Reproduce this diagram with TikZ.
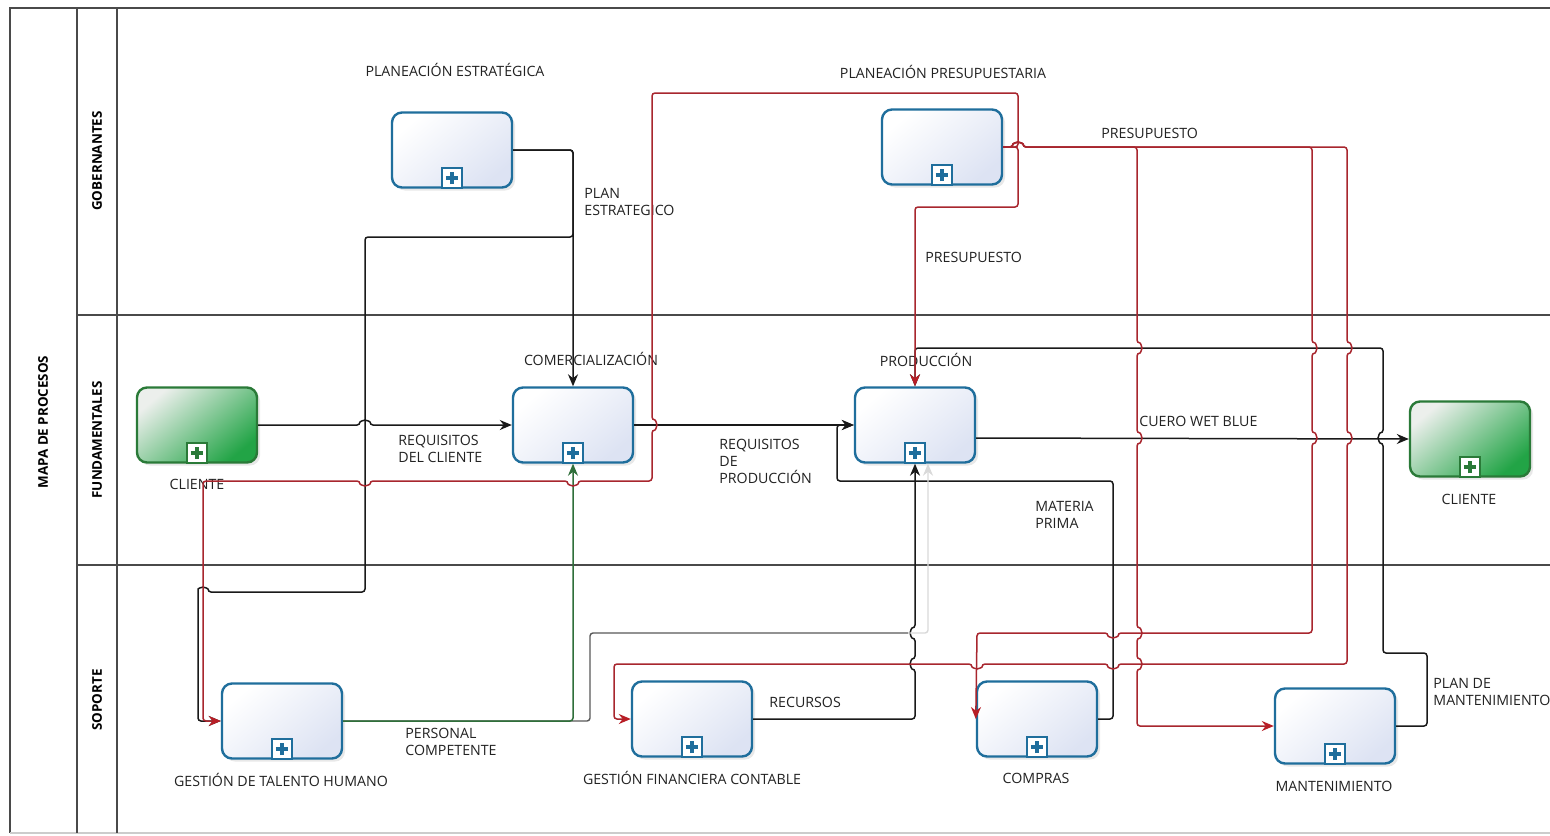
\documentclass[tikz,border=0pt]{standalone}
\usepackage{fontspec}
\setmainfont{Open Sans}
\usetikzlibrary{arrows.meta,shadows}
\definecolor{taskblue}{HTML}{1F6E9C}
\definecolor{taskfill}{HTML}{DDE3F3}
\definecolor{gborder}{HTML}{2A7A38}
\definecolor{gdark}{HTML}{22A446}
\definecolor{glight}{HTML}{ECEFEC}
\definecolor{redline}{HTML}{A8262E}
\definecolor{redarrow}{HTML}{B81E26}
\definecolor{greenline}{HTML}{2F6F3A}
\definecolor{laneline}{HTML}{4A4A4A}
\definecolor{txt}{HTML}{222222}
\tikzset{
  task/.style={draw=taskblue, line width=1.2pt, rounded corners=5pt, minimum width=60pt, minimum height=37.5pt, inner sep=0pt,
    top color=white, bottom color=taskfill, shading angle=40,
    drop shadow={shadow xshift=1.5pt, shadow yshift=-1.5pt, opacity=0.18}},
  gtask/.style={draw=gborder, line width=1.2pt, rounded corners=5pt, minimum width=60pt, minimum height=37.5pt, inner sep=0pt,
    top color=glight, bottom color=gdark, shading angle=40,
    drop shadow={shadow xshift=1.5pt, shadow yshift=-1.5pt, opacity=0.18}},
  lbl/.style={font=\fontsize{7.1}{8.5}\selectfont, inner sep=0pt, align=left, anchor=west, text=txt},
  blbl/.style={font=\fontsize{7.1}{8.5}\selectfont, inner sep=0pt, text=txt},
  lanelbl/.style={font=\fontsize{6.7}{8}\selectfont\bfseries, rotate=90, inner sep=0pt, text=black},
  frameline/.style={draw=laneline, line width=0.6pt},
  bk/.style={draw=black!90, line width=0.75pt, rounded corners=1.5pt},
  rd/.style={draw=redline, line width=0.75pt, rounded corners=1.5pt},
  gn/.style={draw=greenline, line width=0.75pt, rounded corners=1.5pt},
  gy/.style={draw=black!65, line width=0.7pt, rounded corners=1.5pt},
  lgy/.style={draw=black!15, line width=0.7pt, rounded corners=1.5pt},
  arr/.style={-{Stealth[length=6pt,width=5pt]}},
  rarr/.style={-{Stealth[length=6pt,width=5pt,color=redarrow]}},
}
\newcommand\mkplus[2]{%
  \node[draw=#2, fill=white, line width=0.9pt, minimum size=10pt, inner sep=0pt, anchor=south] (#1m) at (#1.south) {};
  \draw[#2, line width=1.8pt] ([yshift=-3.1pt]#1m.center) -- ([yshift=3.1pt]#1m.center)
    ([xshift=-3.1pt]#1m.center) -- ([xshift=3.1pt]#1m.center);}
\begin{document}
\begin{tikzpicture}[x=0.5pt, y=-0.5pt]
\useasboundingbox (0,0) rectangle (1550,835);
\fill[white] (0,0) rectangle (1550,835);
% frame
\draw[frameline] (1560,8) -- (10,8) -- (10,833);
\draw[draw=black!20, line width=0.6pt] (10,833) -- (1560,833);
\draw[frameline] (77,8) -- (77,833);
\draw[frameline] (117,8) -- (117,833);
\draw[frameline] (77,315) -- (1560,315);
\draw[frameline] (77,565) -- (1560,565);
\node[lanelbl] (pool) at (43,422) {MAPA DE PROCESOS};
\node[lanelbl] (lg) at (97,161) {GOBERNANTES};
\node[lanelbl] (lf) at (97,440) {FUNDAMENTALES};
\node[lanelbl] (ls) at (97,700) {SOPORTE};

% nodes
\node[task] (PE) at (452,150) {};
\node[task] (PP) at (942,147) {};
\node[gtask] (C1) at (197,425) {};
\node[task] (COM) at (573,425) {};
\node[task] (PROD) at (915,425) {};
\node[gtask] (C2) at (1470,439) {};
\node[task] (GTH) at (282,721) {};
\node[task] (GFC) at (692,719) {};
\node[task] (CMP) at (1037,719) {};
\node[task] (MANT) at (1335,726) {};
\mkplus{PE}{taskblue}
\mkplus{PP}{taskblue}
\mkplus{C1}{gborder}
\mkplus{COM}{taskblue}
\mkplus{PROD}{taskblue}
\mkplus{C2}{gborder}
\mkplus{GTH}{taskblue}
\mkplus{GFC}{taskblue}
\mkplus{CMP}{taskblue}
\mkplus{MANT}{taskblue}

% node labels
\node[blbl] (tPE) at (455,70) {PLANEACIÓN ESTRATÉGICA};
\node[blbl] (tPP) at (943,72) {PLANEACIÓN PRESUPUESTARIA};
\node[blbl] (tC1) at (197,484) {CLIENTE};
\node[blbl] (tCOM) at (591,359) {COMERCIALIZACIÓN};
\node[blbl] (tPROD) at (926,360) {PRODUCCIÓN};
\node[blbl] (tC2) at (1469,499) {CLIENTE};
\node[blbl] (tGTH) at (281,780) {GESTIÓN DE TALENTO HUMANO};
\node[blbl] (tGFC) at (692,778) {GESTIÓN FINANCIERA CONTABLE};
\node[blbl] (tCMP) at (1036,778) {COMPRAS};
\node[blbl] (tMANT) at (1334,786) {MANTENIMIENTO};

% edge labels
\node[lbl] (ePE) at (584,202) {PLAN\\ESTRATEGICO};
\node[lbl] (ePP1) at (925,257) {PRESUPUESTO};
\node[lbl] (ePP2) at (1101,133) {PRESUPUESTO};
\node[lbl] (eC1) at (398,449) {REQUISITOS\\DEL CLIENTE};
\node[lbl] (eCOM) at (719,461) {REQUISITOS\\DE\\PRODUCCIÓN};
\node[lbl] (ePROD) at (1139,421) {CUERO WET BLUE};
\node[lbl] (eCMP) at (1035,515) {MATERIA\\PRIMA};
\node[lbl] (eGTH) at (405,742) {PERSONAL\\COMPETENTE};
\node[lbl] (eGFC) at (769,702) {RECURSOS};
\node[lbl] (eMANT) at (1433,692) {PLAN DE\\MANTENIMIENTO};

% ---- black connectors
\draw[bk,arr] (PE.east) -- (573,150) -- (COM.north);
\draw[bk,arr] (PE.east) -- (573,150) -- (573,237) -- (365,237) -- (365,592) -- (208,592)
  arc[start angle=0, end angle=180, radius=2.5pt] -- (198,721) -- (GTH.west);
\draw[bk,arr] (C1.east) -- (360,425) arc[start angle=180, end angle=0, radius=2.5pt] -- (COM.west);
\draw[bk,arr] (COM.east) -- (PROD.west);
\draw[bk,arr] ([yshift=-6.5pt]PROD.east) -- (C2.west);
\draw[bk,arr] (CMP.east) -- (1113,719) -- (1113,481) -- (837,481) -- (837,425) -- (PROD.west);
\draw[bk,arr] (MANT.east) -- (1427,726) -- (1427,653) -- (1383,653) -- (1383,443)
  arc[start angle=-90, end angle=-270, radius=2.5pt] -- (1383,348) -- (915,348) -- (PROD.north);
\draw[bk,arr] (GFC.east) -- (915,719) -- (915,669) arc[start angle=-90, end angle=-270, radius=2.5pt]
  -- (915,638) arc[start angle=-90, end angle=-270, radius=2.5pt] -- (PROD.south);

% ---- gray / green connectors from talento humano
\draw[lgy,-{Stealth[length=6pt,width=5pt]}] (908,633) -- (928,633) -- ([xshift=6.5pt]PROD.south);
\draw[gy] (GTH.east) -- (590,721) -- (590,633) -- (908,633);
\draw[gn,arr] (GTH.east) -- (573,721) -- (COM.south);

% ---- red connectors from planeacion presupuestaria
\draw[rd,rarr] (PP.east) -- (1018,147) -- (1018,93) -- (652,93) -- (652,420)
  arc[start angle=90, end angle=-90, radius=2.5pt] -- (652,481) -- (578,481)
  arc[start angle=0, end angle=-180, radius=2.5pt] -- (370,481)
  arc[start angle=0, end angle=-180, radius=2.5pt] -- (203,481) -- (203,721) -- (GTH.west);
\draw[rd,rarr] (PP.east) -- (1018,147) -- (1018,207) -- (915,207) -- (PROD.north);
\draw[rd,rarr] (PP.east) -- (1013,147) arc[start angle=180, end angle=0, radius=2.5pt] -- (1137,147)
  -- (1137,343) arc[start angle=90, end angle=-90, radius=2.5pt]
  -- (1137,433) arc[start angle=90, end angle=-90, radius=2.5pt]
  -- (1137,628) arc[start angle=90, end angle=-90, radius=2.5pt]
  -- (1137,659) arc[start angle=90, end angle=-90, radius=2.5pt]
  -- (1137,726) -- (MANT.west);
\draw[rd,rarr] (PP.east) -- (1013,147) arc[start angle=180, end angle=0, radius=2.5pt] -- (1312,147)
  -- (1312,343) arc[start angle=90, end angle=-90, radius=2.5pt]
  -- (1312,433) arc[start angle=90, end angle=-90, radius=2.5pt]
  -- (1312,633) -- (1118,633) arc[start angle=0, end angle=-180, radius=2.5pt]
  -- (977,633) -- (CMP.west);
\draw[rd,rarr] (PP.east) -- (1013,147) arc[start angle=180, end angle=0, radius=2.5pt] -- (1347,147)
  -- (1347,343) arc[start angle=90, end angle=-90, radius=2.5pt]
  -- (1347,433) arc[start angle=90, end angle=-90, radius=2.5pt]
  -- (1347,664) -- (1118,664) arc[start angle=0, end angle=-180, radius=2.5pt]
  -- (982,664) arc[start angle=0, end angle=-180, radius=2.5pt]
  -- (614,664) -- (614,719) -- (GFC.west);
\end{tikzpicture}
\end{document}
